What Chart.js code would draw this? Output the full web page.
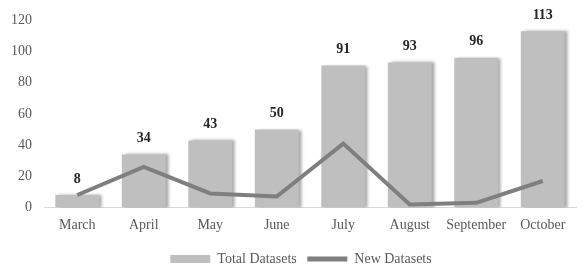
<!DOCTYPE html>
<html>
<head>
<meta charset="utf-8">
<script src="https://cdn.jsdelivr.net/npm/chart.js@4.4.0/dist/chart.umd.min.js"></script>
<style>
  body { margin: 0; background: #fff; }
  #wrap { width: 588px; height: 274px; }
</style>
</head>
<body>
<div id="wrap"><canvas id="myChart"></canvas></div>
<script>
var months = ['March', 'April', 'May', 'June', 'July', 'August', 'September', 'October'];
var totalDatasets = [8, 34, 43, 50, 91, 93, 96, 113];
var newDatasets = [8, 26, 9, 7, 41, 2, 3, 17];
var yTicks = [0, 20, 40, 60, 80, 100, 120];

var fontFamily = '"Liberation Serif", "Times New Roman", serif';

// soft shadow on the right side of bars
var barShadow = {
  id: 'barShadow',
  beforeDatasetDraw: function(chart, args) {
    if (args.index !== 1) return;
    var ctx = chart.ctx;
    ctx.save();
    ctx.shadowColor = 'rgba(0,0,0,0.35)';
    ctx.shadowOffsetX = 3;
    ctx.shadowOffsetY = 0;
    ctx.shadowBlur = 3;
  },
  afterDatasetDraw: function(chart, args) {
    if (args.index !== 1) return;
    chart.ctx.restore();
  }
};

// bold value labels above the bars
var barLabels = {
  id: 'barLabels',
  afterDatasetsDraw: function(chart) {
    var ctx = chart.ctx;
    var meta = chart.getDatasetMeta(1);
    ctx.save();
    ctx.font = 'bold 14px ' + fontFamily;
    ctx.fillStyle = '#262626';
    ctx.textAlign = 'center';
    ctx.textBaseline = 'middle';
    meta.data.forEach(function(bar, i) {
      ctx.fillText(totalDatasets[i], bar.x, bar.y - 16);
    });
    ctx.restore();
  }
};

// nudge the legend a bit, like the original
var legendShift = {
  id: 'legendShift',
  afterLayout: function(chart) {
    chart.legend.left += 13;
    chart.legend.right += 13;
    chart.legend.top += 2;
    chart.legend.bottom += 2;
  }
};

var ctx = document.getElementById('myChart');
var chart = new Chart(ctx, {
  data: {
    labels: months,
    datasets: [{
      type: 'line',
      label: 'New Datasets',
      data: newDatasets,
      borderColor: '#7f7f7f',
      backgroundColor: '#7f7f7f',
      borderWidth: 4,
      pointRadius: 0,
      tension: 0,
      order: 0
    }, {
      type: 'bar',
      label: 'Total Datasets',
      data: totalDatasets,
      backgroundColor: '#bfbfbf',
      barPercentage: 0.66,
      categoryPercentage: 1,
      order: 1
    }]
  },
  options: {
    responsive: true,
    maintainAspectRatio: false,
    animation: false,
    layout: { padding: { top: 5, right: 12, left: 0, bottom: 0 } },
    scales: {
      x: {
        afterFit: function(scale) { scale.height = 32; },
        grid: { display: false, drawTicks: false },
        border: { display: true, color: '#d9d9d9', width: 1 },
        ticks: { color: '#595959', font: { family: fontFamily, size: 14 }, padding: 9, maxRotation: 0 }
      },
      y: {
        min: 0,
        max: 120,
        afterBuildTicks: function(scale) {
          scale.ticks = yTicks.map(function(v) { return { value: v }; });
        },
        afterFit: function(scale) { scale.width = 44; },
        grid: { display: false, drawTicks: false },
        border: { display: false },
        ticks: { color: '#595959', font: { family: fontFamily, size: 14 }, padding: 12 }
      }
    },
    plugins: {
      tooltip: { enabled: false },
      legend: {
        position: 'bottom',
        reverse: true,
        labels: {
          color: '#595959',
          font: { family: fontFamily, size: 14 },
          usePointStyle: true,
          pointStyleWidth: 40,
          boxHeight: 8,
          padding: 10.5,
          generateLabels: function(chart) {
            var items = Chart.defaults.plugins.legend.labels.generateLabels(chart);
            items.forEach(function(it) {
              if (it.datasetIndex === 1) {
                it.pointStyle = 'rect';
                it.lineWidth = 0;
                it.fillStyle = '#bfbfbf';
                it.strokeStyle = '#bfbfbf';
              } else {
                it.pointStyle = 'line';
                it.lineWidth = 5;
                it.strokeStyle = '#7f7f7f';
              }
            });
            return items;
          }
        }
      }
    }
  },
  plugins: [barShadow, barLabels, legendShift]
});
</script>
</body>
</html>
